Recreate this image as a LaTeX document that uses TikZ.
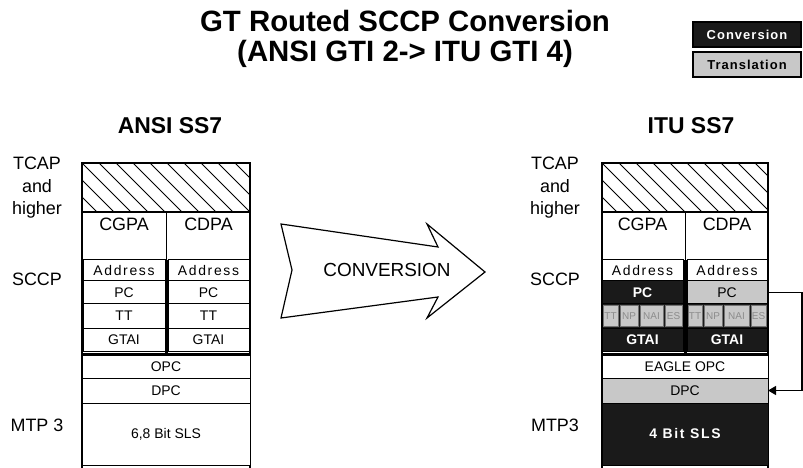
\documentclass[tikz,border=0pt]{standalone}
\usepackage{fontspec}
\setmainfont{Liberation Sans}
\usetikzlibrary{positioning,arrows.meta}
\definecolor{convfill}{HTML}{1A1A1A}
\definecolor{transfill}{HTML}{C8C8C8}

\begin{document}
\begin{tikzpicture}[
  x=1bp, y=-1bp,
  >={Triangle[length=8bp,width=9bp]},
  every node/.style={inner sep=0pt, outer sep=0pt},
  diagram title/.style={font=\fontsize{29.5}{30}\selectfont\bfseries, align=center},
  stack title/.style={font=\fontsize{23}{24}\selectfont\bfseries},
  layer label/.style={font=\fontsize{18}{22.5}\selectfont, align=center},
  pa label/.style={font=\fontsize{18}{20}\selectfont},
  stack frame/.style={line width=1.3bp},
  hatch/.style={line width=0.8bp},
  divider/.style={line width=3bp},
  cell/.style={draw, line width=1bp, fill=white, font=\fontsize{14}{15}\selectfont},
  address/.style={font=\fontsize{14}{15}\selectfont\addfontfeature{LetterSpace=12}},
  conv cell/.style={cell, fill=convfill, text=white, font=\fontsize{14}{15}\selectfont\bfseries},
  trans cell/.style={cell, fill=transfill},
  minibox/.style={draw=black!55, line width=0.6bp, fill=transfill, text=black!45,
    minimum height=21bp, font=\fontsize{10}{11}\selectfont},
  row/.style={minimum height=#1bp},
  key box/.style={draw, line width=1.2bp, minimum width=108bp, minimum height=25bp,
    font=\fontsize{13}{14}\selectfont\bfseries\addfontfeature{LetterSpace=8}},
  conv arrow/.style={line width=1.2bp},
  conv text/.style={font=\fontsize{19}{20}\selectfont},
  link/.style={line width=1.2bp}
]
  \useasboundingbox (0,0) rectangle (803,468);

  % heading and key
  \node[diagram title] (title) at (405,39) {GT Routed SCCP Conversion\\(ANSI GTI 2-> ITU GTI 4)};
  \node[key box, fill=convfill, text=white] (convKey) at (747,34.5) {Conversion};
  \node[key box, fill=transfill, below=5bp of convKey] (transKey) {Translation};

  % ANSI stack, left
  \node[stack title] (ansiTitle) at (170,126) {ANSI SS7};
  \node[layer label] (aTcap) at (37,188) {TCAP\\and\\higher};
  \node[layer label] (aSccp) at (37,279) {SCCP};
  \node[layer label] (aMtp) at (37,425) {MTP 3};

  \draw[stack frame] (82,475) |- (250,163) -- (250,475);
  \begin{scope}
    \clip (82,163) rectangle (250,212);
    \foreach \x in {31,48,...,250}
      \draw[hatch] (\x,163) -- ++(50,50);
  \end{scope}
  \draw[stack frame] (82,212) -- (250,212);
  \draw (166.5,212) -- (166.5,260);
  \node[pa label] (aCgpa) at (124,224) {CGPA};
  \node[pa label] (aCdpa) at (208.5,224) {CDPA};

  \node[cell,address,minimum width=82bp,row=21,anchor=north west] (aAddrL) at (83,260) {Address};
  \node[cell,minimum width=82bp,row=23,below=0pt of aAddrL] (aPcL) {PC};
  \node[cell,minimum width=82bp,row=24,below=0pt of aPcL] (aTtL) {TT};
  \node[cell,minimum width=82bp,row=23,below=0pt of aTtL] (aGtaiL) {GTAI};
  \node[cell,address,minimum width=81bp,row=21,anchor=north west] (aAddrR) at (168,260) {Address};
  \node[cell,minimum width=81bp,row=23,below=0pt of aAddrR] (aPcR) {PC};
  \node[cell,minimum width=81bp,row=24,below=0pt of aPcR] (aTtR) {TT};
  \node[cell,minimum width=81bp,row=23,below=0pt of aTtR] (aGtaiR) {GTAI};
  \draw[divider] (166.5,260) -- (166.5,354);
  \draw[stack frame] (82,354) -- (250,354);

  \node[cell,minimum width=168bp,row=22,anchor=north west] (aOpc) at (82,356) {OPC};
  \node[cell,minimum width=168bp,row=25,below=0pt of aOpc] (aDpc) {DPC};
  \node[cell,minimum width=168bp,row=62,below=0pt of aDpc] (aSls) {6,8 Bit SLS};

  % the big arrow between the two stacks
  \draw[conv arrow] (281,224) -- (438,247) -- (427,224) -- (485,272) -- (427,318)
    -- (438,297) -- (281,318) -- (292,270) -- cycle;
  \node[conv text] (convText) at (387,270) {CONVERSION};

  % ITU stack, right
  \node[stack title] (ituTitle) at (691,126) {ITU SS7};
  \node[layer label] (iTcap) at (555,188) {TCAP\\and\\higher};
  \node[layer label] (iSccp) at (555,279) {SCCP};
  \node[layer label] (iMtp) at (555,425) {MTP3};

  \draw[stack frame] (602,475) |- (768,163) -- (768,475);
  \begin{scope}
    \clip (602,163) rectangle (768,212);
    \foreach \x in {551,568,...,768}
      \draw[hatch] (\x,163) -- ++(50,50);
  \end{scope}
  \draw[stack frame] (602,212) -- (768,212);
  \draw (685,212) -- (685,260);
  \node[pa label] (iCgpa) at (642.5,224) {CGPA};
  \node[pa label] (iCdpa) at (727,224) {CDPA};

  \node[cell,address,minimum width=81bp,row=21,anchor=north west] (iAddrL) at (602,260) {Address};
  \node[conv cell,minimum width=81bp,row=23,below=0pt of iAddrL] (iPcL) {PC};
  \node[conv cell,minimum width=81bp,row=24,below=0pt of iPcL] (iSubL) {};
  \node[conv cell,minimum width=81bp,row=23,below=0pt of iSubL] (iGtaiL) {GTAI};
  \node[minibox,minimum width=15bp,anchor=west] (iTtL) at ([xshift=1bp]iSubL.west) {TT};
  \node[minibox,minimum width=18bp,right=2bp of iTtL] (iNpL) {NP};
  \node[minibox,minimum width=23bp,right=2bp of iNpL] (iNaiL) {NAI};
  \node[minibox,minimum width=17bp,right=2bp of iNaiL] (iEsL) {ES};

  \node[cell,address,minimum width=80bp,row=21,anchor=north west] (iAddrR) at (687,260) {Address};
  \node[trans cell,minimum width=80bp,row=23,below=0pt of iAddrR] (iPcR) {PC};
  \node[conv cell,minimum width=80bp,row=24,below=0pt of iPcR] (iSubR) {};
  \node[conv cell,minimum width=80bp,row=23,below=0pt of iSubR] (iGtaiR) {GTAI};
  \node[minibox,minimum width=14bp,anchor=west] (iTtR) at ([xshift=1bp]iSubR.west) {TT};
  \node[minibox,minimum width=18bp,right=2bp of iTtR] (iNpR) {NP};
  \node[minibox,minimum width=25bp,right=2bp of iNpR] (iNaiR) {NAI};
  \node[minibox,minimum width=15bp,right=2bp of iNaiR] (iEsR) {ES};
  \draw[divider] (685,260) -- (685,354);
  \draw[stack frame] (602,354) -- (768,354);

  \node[cell,minimum width=166bp,row=22,anchor=north west] (iOpc) at (602,356) {EAGLE OPC};
  \node[trans cell,minimum width=166bp,row=25,below=0pt of iOpc] (iDpc) {DPC};
  \node[conv cell,minimum width=166bp,row=62,below=0pt of iDpc,
    font=\fontsize{14}{15}\selectfont\bfseries\addfontfeature{LetterSpace=12}] (iSls) {4 Bit SLS};

  % translated PC is carried down into the DPC
  \draw[link,->] (iPcR.east) -- ++(35,0) |- (iDpc.east);
\end{tikzpicture}
\end{document}
